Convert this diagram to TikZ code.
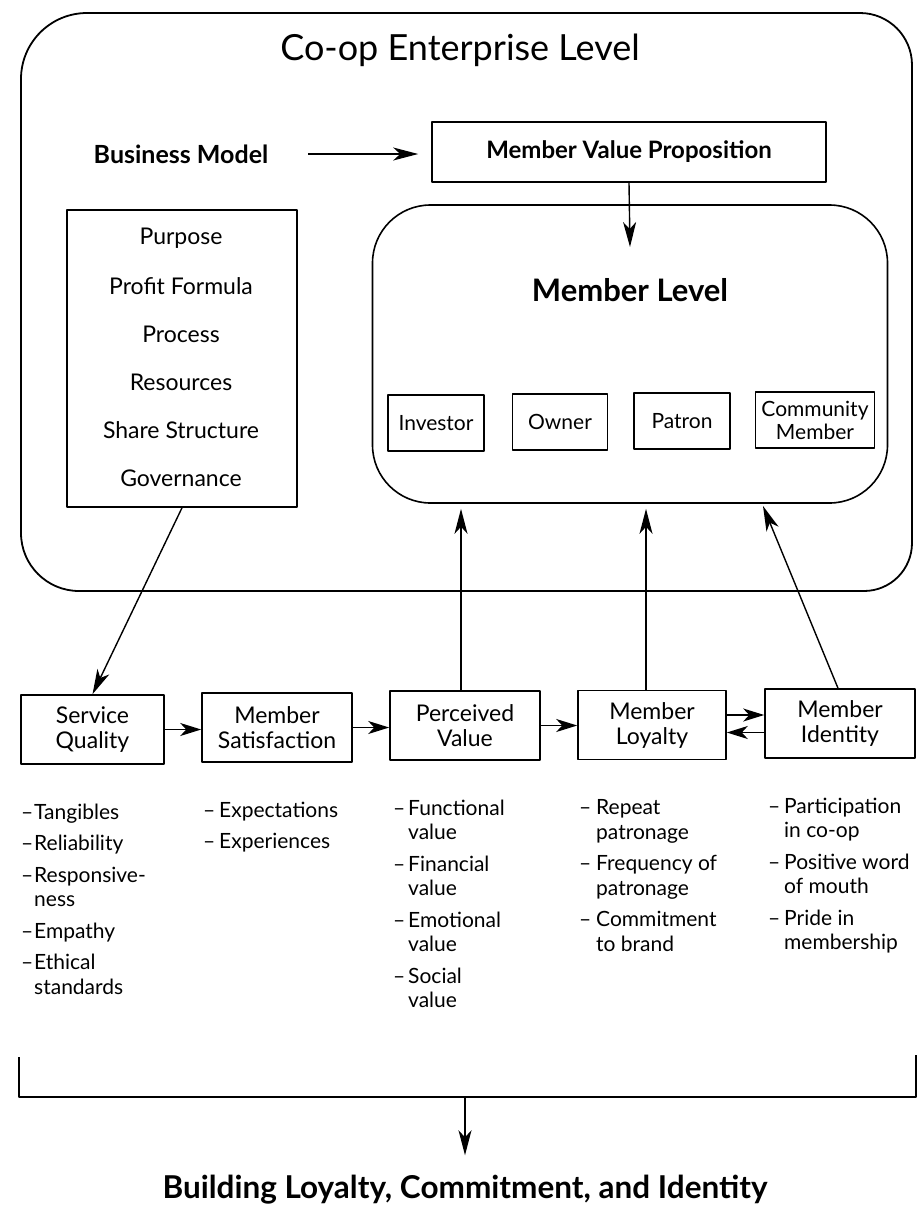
\documentclass[tikz,border=0pt]{standalone}
\usepackage{fontspec}
\setmainfont{Lato}
\usetikzlibrary{arrows.meta}
\newcommand{\fs}[2]{\fontsize{#1}{#2}\selectfont}
\newcommand{\dsh}[1][15pt]{\makebox[#1][l]{–}}
\newcommand{\ind}[1][15pt]{\hspace*{#1}}

\begin{document}
\begin{tikzpicture}[x=1pt,y=-1pt,
  line join=round,
  frame/.style={draw, line width=1.8pt},
  box/.style={draw, line width=1.6pt, inner sep=0pt, align=center},
  rowbox/.style={box, minimum width=150pt, minimum height=69pt, font=\fs{23}{25}},
  rolebox/.style={box, minimum height=56pt, font=\fs{21}{23}},
  lbl/.style={inner sep=0pt, align=center},
  itemlist/.style={inner sep=0pt, align=left, anchor=north west, font=\fs{21}{24.5}},
  arr/.style={line width=1.4pt, -{Stealth[length=25pt,width=13pt,inset=7pt]}},
  arrs/.style={line width=1.4pt, -{Stealth[length=21pt,width=13pt,inset=6pt]}},
]
\useasboundingbox (0,0) rectangle (918,1213);

% enterprise level frame
\draw[frame] (21,300) [rounded corners=66pt] |- (480,13)
  [rounded corners=52pt] -| (912,300)
  [rounded corners=48pt] |- (480,591)
  [rounded corners=58pt] -| (21,300);
\node[lbl, font=\fs{36}{40}] (title) at (460,50) {Co-op Enterprise Level};

% business model and value proposition
\node[lbl, font=\bfseries\fs{25}{28}] (bm) at (181,154) {Business Model};
\node[box, minimum width=394pt, minimum height=60pt, font=\bfseries\fs{24}{28}] (mvp) at (629,152) {Member Value Proposition};
\draw[arr, shorten <=40pt, shorten >=13pt] (bm.east) -- (bm.east -| mvp.west);

% business model components
\node[box, minimum width=230pt, minimum height=297pt] (blist) at (182,358.5) {};
\foreach \t [count=\i] in {Purpose, Profit Formula, Process, Resources, Share Structure, Governance}
  \node[lbl, font=\fs{23}{27}] (bl\i) at (181, 190+48*\i) {\t};

% member level
\node[box, rounded corners=58pt, minimum width=515pt, minimum height=298pt] (ml) at (630,354) {};
\node[lbl, font=\bfseries\fs{31}{34}] (mltitle) at (630,290) {Member Level};
\coordinate (mvptip) at (630,247);
\draw[arr] (mvp.south) -- (mvptip);

\node[rolebox, minimum width=96pt] (inv) at (436,423) {Investor};
\node[rolebox, minimum width=95pt] (own) at (560,422) {Owner};
\node[rolebox, minimum width=96pt] (pat) at (682,421) {Patron};
\node[rolebox, minimum width=119pt] (com) at (815,420) {Community\\Member};

% chain of member outcomes
\node[rowbox, minimum width=143pt] (sq) at (92.5,729.5) {Service\\Quality};
\node[rowbox] (ms) at (277,727.5) {Member\\Satisfaction};
\node[rowbox] (pv) at (465,725.5) {Perceived\\Value};
\node[rowbox, minimum width=148pt] (loy) at (652,725) {Member\\Loyalty};
\node[rowbox] (mi) at (840,723.5) {Member\\Identity};

\draw[arrs] (sq.east) -- (sq.east -| ms.west);
\draw[arrs] (ms.east) -- (ms.east -| pv.west);
\draw[arrs] (pv.east) -- (pv.east -| loy.west);
\draw[arrs] ([yshift=10pt]loy.east) -- ([yshift=10pt]loy.east -| mi.west);
\draw[arrs] ([yshift=-9pt]mi.west) -- ([yshift=-9pt]mi.west -| loy.east);

% links between the levels
\draw[arr] (blist.south) -- (sq.north);
\draw[arr, shorten >=5pt] ([xshift=-4pt]pv.north) -- ([xshift=-4pt]pv.north |- ml.south);
\draw[arr, shorten >=5pt] ([xshift=-6pt]loy.north) -- ([xshift=-6pt]loy.north |- ml.south);
\coordinate (mitip) at (763,506);
\draw[arr] ([xshift=-2pt]mi.north) -- (mitip);

% attribute lists
\node[itemlist] (l1) at (21,803.5) {\dsh[13pt]Tangibles\\[7pt]\dsh[13pt]Reliability\\[7pt]\dsh[13pt]Responsive-\\\ind[13pt]ness\\[7pt]\dsh[13pt]Empathy\\[7pt]\dsh[13pt]Ethical\\\ind[13pt]standards};
\node[itemlist] (l2) at (203,801.5) {\dsh[16pt]Expectations\\[7pt]\dsh[16pt]Experiences};
\node[itemlist] (l3) at (393,799.5) {\dsh Functional\\\ind value\\[7pt]\dsh Financial\\\ind value\\[7pt]\dsh Emotional\\\ind value\\[7pt]\dsh Social\\\ind value};
\node[itemlist] (l4) at (579,799.5) {\dsh[17pt]Repeat\\\ind[17pt]patronage\\[7pt]\dsh[17pt]Frequency of\\\ind[17pt]patronage\\[7pt]\dsh[17pt]Commitment\\\ind[17pt]to brand};
\node[itemlist] (l5) at (768,797.5) {\dsh[16pt]Participation\\\ind[16pt]in co-op\\[7pt]\dsh[16pt]Positive word\\\ind[16pt]of mouth\\[7pt]\dsh[16pt]Pride in\\\ind[16pt]membership};

% outcome
\coordinate (brL) at (19,1057);
\coordinate (brR) at (916,1055);
\coordinate (brM) at (465,1097);
\draw[line width=1.6pt] (brL) |- (brR |- brM) -- (brR);
\node[lbl, font=\bfseries\fs{31.5}{34}] (goal) at (465,1190) {Building Loyalty, Commitment, and Identity};
\draw[arr, shorten >=20pt] (brM) -- (goal.north);
\end{tikzpicture}
\end{document}
